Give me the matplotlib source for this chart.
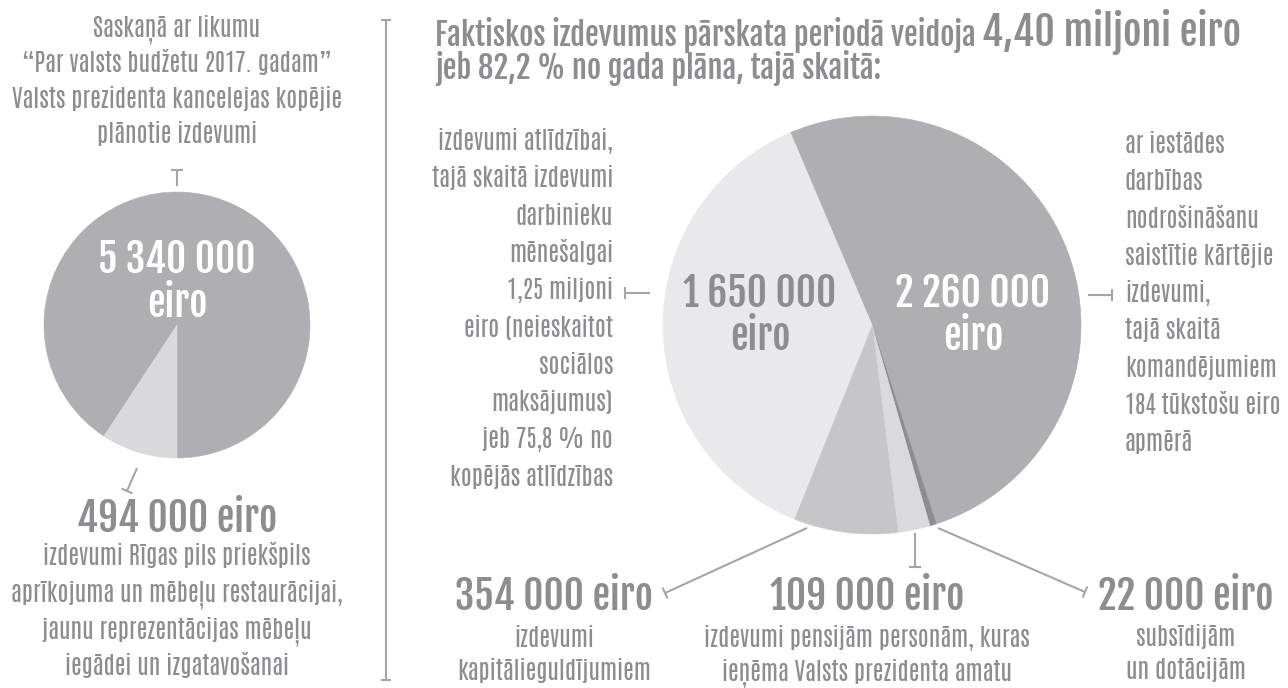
import math
import matplotlib
matplotlib.use("Agg")
import matplotlib.pyplot as plt
from matplotlib.font_manager import FontProperties
from matplotlib.textpath import TextPath

# ---- data ----
PLANNED_TOTAL = 5340000          # planned expenses 2017
FURNITURE = 494000               # Riga castle furniture part
MAIN_NAMES = ["kārtējie izdevumi", "subsīdijas un dotācijas", "pensijas",
              "kapitālieguldījumi", "atlīdzība"]
MAIN_VALUES = [2260000, 22000, 109000, 354000, 1650000]
ACTUAL_TOTAL_TXT = "4,40 miljoni eiro"
PLAN_SHARE_TXT = "82,2 %"

LEFT_TOP_LINES = ["Saskaņā ar likumu", "“Par valsts budžetu 2017. gadam”",
                  "Valsts prezidenta kancelejas kopējie", "plānotie izdevumi"]
LEFT_BOTTOM_LINES = ["izdevumi Rīgas pils priekšpils", "aprīkojuma un mēbeļu restaurācijai,",
                     "jaunu reprezentācijas mēbeļu", "iegādei un izgatavošanai"]
SALARY_LINES = ["izdevumi atlīdzībai,", "tajā skaitā izdevumi", "darbinieku", "mēnešalgai",
                "1,25 miljoni", "eiro (neieskaitot", "sociālos", "maksājumus)",
                "jeb 75,8 % no", "kopējās atlīdzības"]
CURRENT_LINES = ["ar iestādes", "darbības", "nodrošināšanu", "saistītie kārtējie", "izdevumi,",
                 "tajā skaitā", "komandējumiem", "184 tūkstošu eiro", "apmērā"]
CAPITAL_LINES = ["izdevumi", "kapitālieguldījumiem"]
PENSION_LINES = ["izdevumi pensijām personām, kuras", "ieņēma Valsts prezidenta amatu"]
SUBSIDY_LINES = ["subsīdijām", "un dotācijām"]

# ---- style ----
W, H, DPI = 1288, 688, 100
TXT = "#8d8d91"
LINE = "#a5a5a8"
MAIN_COLORS = ["#afafb3", "#8d8d91", "#dadadc", "#c6c6c8", "#e9e9eb"]
LEFT_COLORS = ["#afafb3", "#d9d9db"]
BODY = ["Antonio", "DejaVu Sans"]
BOLD = ["Fjalla One", "DejaVu Sans"]


def fmt(v):
    return f"{v:,}".replace(",", " ")


def fit(text, width_px, family):
    fp = FontProperties(family=family)
    w = TextPath((0, 0), text, size=100, prop=fp).get_extents().width
    return width_px * 72 / w


def Y(v):
    return H - v


fig = plt.figure(figsize=(W / DPI, H / DPI), dpi=DPI)
ax = fig.add_axes([0, 0, 1, 1])

# pies
w1, _ = ax.pie([PLANNED_TOTAL - FURNITURE, FURNITURE], colors=LEFT_COLORS, startangle=270,
               counterclock=True, center=(177, Y(325)), radius=133)
w2, _ = ax.pie(MAIN_VALUES, colors=MAIN_COLORS, startangle=113, counterclock=False,
               center=(872, Y(325)), radius=209)
for w in list(w1) + list(w2):
    w.set_edgecolor(w.get_facecolor())
    w.set_linewidth(0.4)
ax.set_xlim(0, W)
ax.set_ylim(0, H)
ax.set_aspect("equal")
ax.axis("off")

body_fs = fit(LEFT_TOP_LINES[2], 328, BODY)
bold_fs = fit(fmt(FURNITURE) + " eiro", 197, BOLD)
pie_fs = fit(fmt(PLANNED_TOTAL), 153, BOLD)
title_fs = fit("Faktiskos izdevumus pārskata periodā veidoja", 537, BOLD)
big_fs = fit(ACTUAL_TOTAL_TXT, 256, BOLD)


def body(x, y0, lines, ha, step):
    for i, s in enumerate(lines):
        ax.text(x, Y(y0 + i * step), s, ha=ha, va="baseline", fontsize=body_fs,
                family=BODY, color=TXT)


def bold(x, y, s, fs, color=TXT, ha="center"):
    ax.text(x, Y(y), s, ha=ha, va="baseline", fontsize=fs, family=BOLD, color=color)


def leader(x0, y0, x1, y1, caps=(False, True), cap=6):
    ax.plot([x0, x1], [Y(y0), Y(y1)], color=LINE, lw=1.5, solid_capstyle="butt")
    dx, dy = x1 - x0, -(y1 - y0)
    L = math.hypot(dx, dy)
    px, py = -dy / L * cap, dx / L * cap
    for flag, (cx, cy) in zip(caps, [(x0, Y(y0)), (x1, Y(y1))]):
        if flag:
            ax.plot([cx - px, cx + px], [cy - py, cy + py], color=LINE, lw=1.5,
                    solid_capstyle="butt")


# left column
body(177, 37, LEFT_TOP_LINES, "center", 35.3)
leader(177, 186, 177, 170)
bold(177, 273, fmt(PLANNED_TOTAL), pie_fs, "white")
bold(177, 317, "eiro", pie_fs, "white")
leader(137, 468, 127, 491)
bold(177, 532, fmt(FURNITURE) + " eiro", bold_fs)
body(177, 565, LEFT_BOTTOM_LINES, "center", 36.8)

# bracket
leader(386, 20, 386, 680, caps=(True, True), cap=5)

# title
bold(435, 46, "Faktiskos izdevumus pārskata periodā veidoja", title_fs, ha="left")
bold(982, 46, ACTUAL_TOTAL_TXT, big_fs, ha="left")
bold(435, 79, f"jeb {PLAN_SHARE_TXT} no gada plāna, tajā skaitā:", title_fs, ha="left")

# main pie labels
bold(760, 307, fmt(MAIN_VALUES[4]), pie_fs)
bold(760, 350, "eiro", pie_fs)
bold(973, 307, fmt(MAIN_VALUES[0]), pie_fs, "white")
bold(973, 350, "eiro", pie_fs, "white")

body(613, 150, SALARY_LINES, "right", 37.3)
leader(650, 293, 625, 293)
body(1125, 153, CURRENT_LINES, "left", 37.3)
leader(1088, 295, 1112, 295)

# bottom labels
leader(807, 528, 665, 593)
bold(554, 610, fmt(MAIN_VALUES[3]) + " eiro", bold_fs)
body(554, 647, CAPITAL_LINES, "center", 33)

leader(915, 533, 915, 567)
bold(867, 610, fmt(MAIN_VALUES[2]) + " eiro", bold_fs)
body(867, 647, PENSION_LINES, "center", 33)

leader(938, 528, 1085, 592)
bold(1186, 610, fmt(MAIN_VALUES[1]) + " eiro", bold_fs)
body(1186, 646, SUBSIDY_LINES, "center", 33)

fig.savefig("out.png", dpi=DPI)
